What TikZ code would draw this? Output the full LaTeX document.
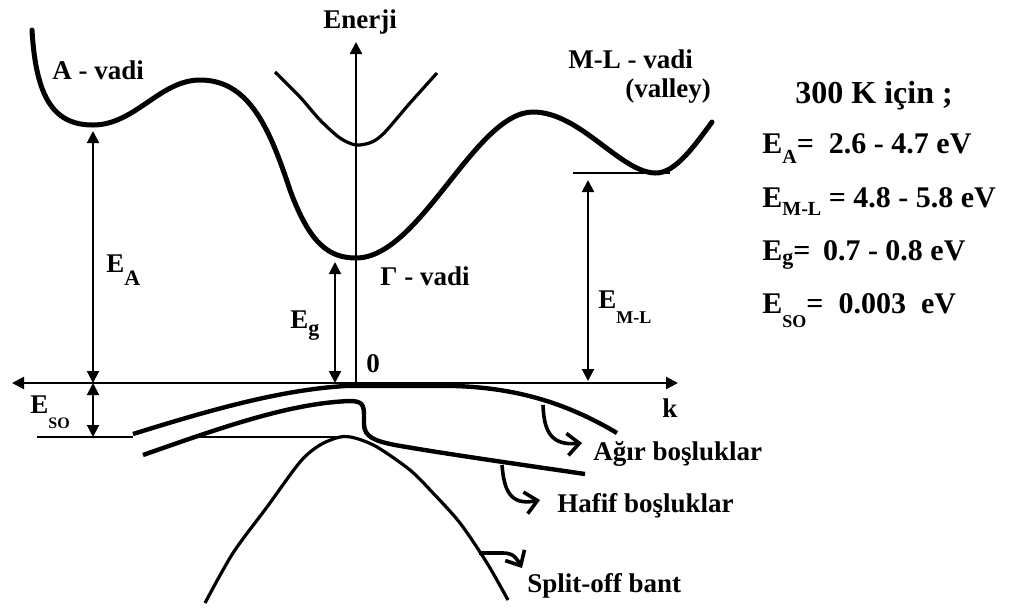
\documentclass[tikz,border=0pt]{standalone}
\usepackage{fontspec}
\setmainfont{Liberation Serif}
\usetikzlibrary{arrows.meta}
\newcommand{\lsub}[3]{\raisebox{-#1}{\fontsize{#2}{#2}\selectfont #3}}

\begin{document}
\begin{tikzpicture}[x=0.5pt,y=-0.5pt,>={Triangle[length=6pt,width=6pt]},
  lbl/.style={font=\fontsize{13.5}{16}\selectfont\bfseries,inner sep=0pt,anchor=base west},
  eqn/.style={font=\fontsize{15}{18}\selectfont\bfseries,inner sep=0pt,anchor=base west},
  axis/.style={line width=1.2pt},
  gap/.style={line width=1pt},
  band/.style={line width=2.5pt,line cap=round},
  hole/.style={line width=2.2pt},
  thinband/.style={line width=1.6pt},
  pointer/.style={line width=1.8pt,-{Straight Barb[length=6pt,width=11pt]}}]
\useasboundingbox (0,0) rectangle (1016,607);

% axes
\coordinate (o) at (356,383);
\coordinate (kL) at (12,383);
\coordinate (kR) at (678,383);
\coordinate (eTop) at (356,42);
\draw[axis,<->] (kL) -- (kR);
\draw[axis,->] (o) -- (eTop);
\node[lbl] (enerji) at (323,28) {Enerji};
\node[lbl] (zero) at (366,372) {0};
\node[lbl] (kk) at (662,417) {k};

% conduction band
\draw[band] (32,30) .. controls (36,100) and (55,125) .. (93,125)
  .. controls (135,125) and (160,80) .. (200,80)
  .. controls (250,80) and (270,130) .. (290,190)
  .. controls (310,245) and (330,258) .. (356,258)
  .. controls (420,258) and (475,112) .. (533,112)
  .. controls (580,112) and (620,172) .. (655,173)
  .. controls (675,174) and (695,145) .. (712,122);
\draw[thinband] plot[smooth] coordinates {(275,72) (300,97) (320,120) (340,138) (356,145)
  (372,142) (385,132) (410,103) (437,73)};
\node[lbl] (avadi) at (52,79) {A - vadi};
\node[lbl] (mlvadi) at (568,68) {M-L - vadi};
\node[lbl] (valley) at (625,97) {(valley)};
\node[lbl] (gvadi) at (380,285) {Γ - vadi};

% gaps
\coordinate (aMin) at (93,131);
\coordinate (aAx) at (93,383);
\coordinate (soBot) at (93,437);
\coordinate (gMin) at (335,262);
\coordinate (gAx) at (335,383);
\coordinate (mlMin) at (588,180);
\coordinate (mlAx) at (588,381);
\coordinate (mlL) at (573,173);
\coordinate (mlR) at (670,173);
\coordinate (soL) at (37,437);
\coordinate (soR) at (133,437);
\coordinate (spL) at (193,437);
\coordinate (spR) at (338,437);
\draw[gap,<->] (aAx) -- (aMin);
\draw[gap,<->] (aAx) -- (soBot);
\draw[gap,<->] (gAx) -- (gMin);
\draw[gap,<->] (mlAx) -- (mlMin);
\draw[gap] (mlL) -- (mlR);
\draw[gap] (soL) -- (soR);
\draw[gap] (spL) -- (spR);
\node[lbl] (ea) at (106,272) {E\lsub{6.5pt}{11}{A}};
\node[lbl] (eg) at (290,328) {E\lsub{3.5pt}{11}{g}};
\node[lbl] (eml) at (598,308) {E\lsub{7.5pt}{9}{M-L}};
\node[lbl] (eso) at (30,413) {E\lsub{7.5pt}{8}{SO}};

% valence bands
\draw[hole] (133,434) .. controls (210,410) and (280,390) .. (345,386) -- (455,386)
  .. controls (520,388) and (570,405) .. (617,433);
\draw[hole] (143,455) .. controls (220,428) and (290,403) .. (350,401)
  .. controls (362,401) and (364,405) .. (364,415) -- (364,424)
  .. controls (364,437) and (375,441) .. (395,445)
  .. controls (440,453) and (510,463) .. (585,474);
\draw[thinband] plot[smooth] coordinates {(205,603) (233,553) (267,507) (300,462) (320,445)
  (340,437) (355,438) (377,447) (410,470) (433,493) (460,523) (487,563) (508,600)};

% pointers
\draw[pointer] (543,405) .. controls (544,430) and (550,446) .. (582,443);
\draw[pointer] (502,465) .. controls (504,490) and (510,506) .. (540,500);
\draw[pointer] (479,553) -- (503,553) .. controls (514,553) and (517,559) .. (522,568);
\node[lbl] (heavy) at (593,460) {Ağır boşluklar};
\node[lbl] (light) at (557,512) {Hafif boşluklar};
\node[lbl] (split) at (527,592) {Split-off bant};

% values
\node[eqn,font=\fontsize{16}{19}\selectfont\bfseries] (temp) at (795,103) {300 K için ;};
\node[eqn] (vA) at (762,153) {E\lsub{5pt}{10}{A}= \ 2.6 - 4.7 eV};
\node[eqn] (vML) at (762,207) {E\lsub{4pt}{10}{M-L} = 4.8 - 5.8 eV};
\node[eqn] (vg) at (762,260) {E\lsub{2pt}{11}{g}= \,0.7 - 0.8 eV};
\node[eqn] (vSO) at (762,313) {E\lsub{7pt}{9}{SO}= \ 0.003 \ eV};
\end{tikzpicture}
\end{document}
